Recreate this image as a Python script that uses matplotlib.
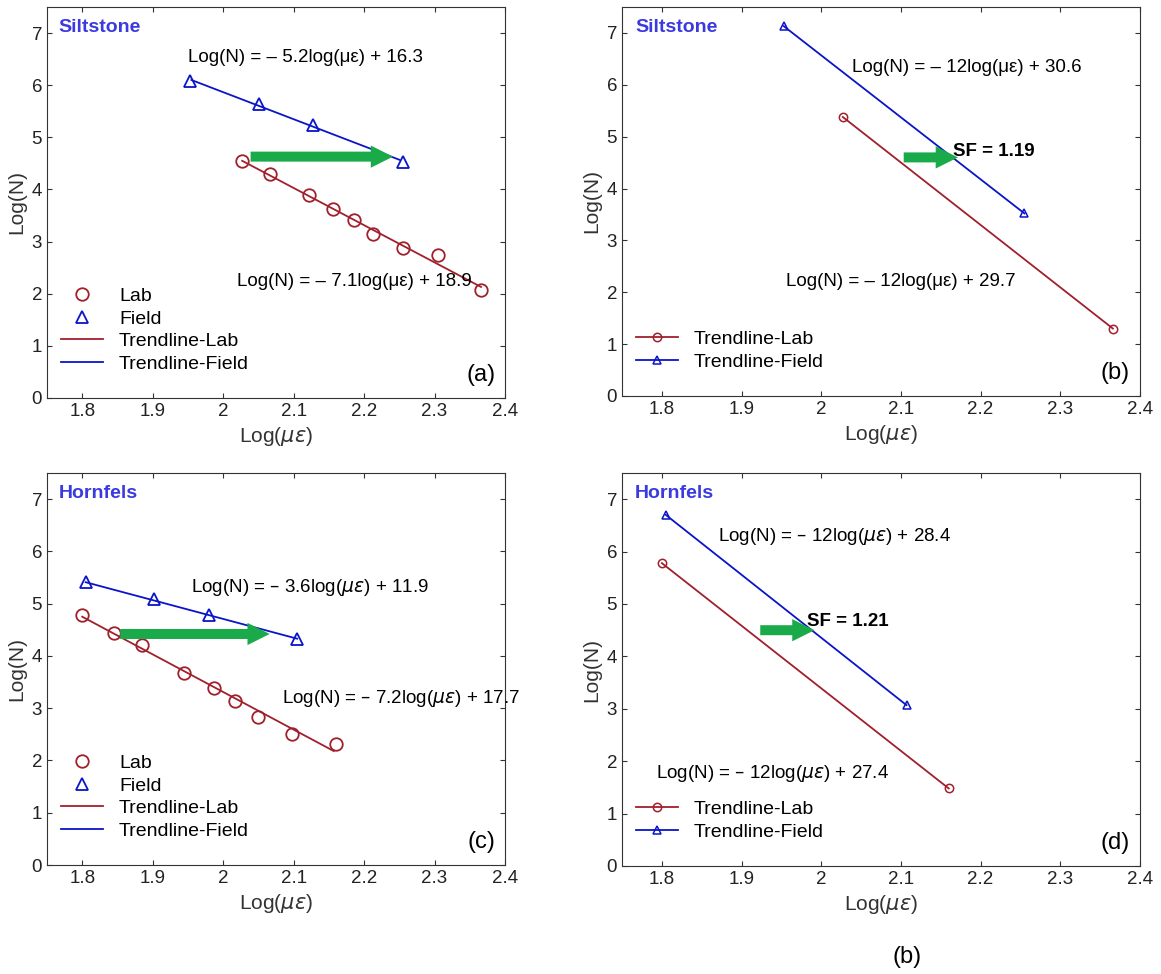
import matplotlib.pyplot as plt
plt.rcParams['font.family']=['Liberation Sans','DejaVu Sans']

lab_a_x=[2.027,2.066,2.122,2.156,2.185,2.212,2.255,2.305,2.366]
lab_a_y=[4.55,4.30,3.90,3.63,3.42,3.15,2.87,2.75,2.08]
fld_a_x=[1.953,2.051,2.128,2.255]
fld_a_y=[6.08,5.63,5.24,4.52]
trl_a=([2.027,2.366],[4.55,2.13]); trf_a=([1.955,2.25],[6.10,4.57])
lab_b=([2.027,2.366],[5.38,1.30]); fld_b=([1.953,2.255],[7.13,3.52])
lab_c_x=[1.80,1.845,1.885,1.945,1.987,2.017,2.05,2.098,2.16]
lab_c_y=[4.78,4.44,4.20,3.68,3.39,3.14,2.84,2.50,2.32]
fld_c_x=[1.805,1.902,1.98,2.105]
fld_c_y=[5.41,5.09,4.78,4.33]
trl_c=([1.80,2.157],[4.75,2.18]); trf_c=([1.805,2.105],[5.41,4.33])
lab_d=([1.80,2.16],[5.78,1.48]); fld_d=([1.805,2.107],[6.70,3.07])

RED='#a0202c'; BLUE='#0a14c8'; GREEN='#1aaa4a'; TB='#3a3ae0'
fig=plt.figure(figsize=(11.61,9.74),dpi=100)
W,H=1161,974
def ax_at(x0,y0,x1,y1):
    return fig.add_axes([x0/W,1-y1/H,(x1-x0)/W,(y1-y0)/H])
axs=[ax_at(47,7,505,398),ax_at(622,7,1140,396),ax_at(47,473,505,865),ax_at(622,473,1140,866)]
for ax in axs:
    ax.set_xlim(1.75,2.4); ax.set_ylim(0,7.5)
    ax.set_xticks([1.8,1.9,2,2.1,2.2,2.3,2.4]); ax.set_xticklabels(['1.8','1.9','2','2.1','2.2','2.3','2.4'])
    ax.set_yticks(range(8))
    ax.tick_params(direction='in',top=True,right=True,labelsize=13.5,colors='#333333',labelcolor='#222222')
    for s in ax.spines.values(): s.set_color('#333333'); s.set_linewidth(0.8)
    ax.set_xlabel(r'Log($\mu\epsilon$)',fontsize=15,color='#333333')
    ax.set_ylabel('Log(N)',fontsize=15,color='#333333')

def arrow(ax,x0,x1,y):
    ax.annotate('',xy=(x1,y),xytext=(x0,y),arrowprops=dict(arrowstyle='simple,head_width=1.0,head_length=1.0,tail_width=0.45',color=GREEN,lw=0,mutation_scale=16))

mk=dict(mfc='none',ms=9,mew=1.3,ls='none')
for ax,lx,ly,fx,fy,tl,tf,lab,e1,e2,e1p,e2p,title in [
    (axs[0],lab_a_x,lab_a_y,fld_a_x,fld_a_y,trl_a,trf_a,'(a)','Log(N) = – 5.2log(με) + 16.3','Log(N) = – 7.1log(με) + 18.9',(1.95,6.54),(2.02,2.24),'Siltstone'),
    (axs[2],lab_c_x,lab_c_y,fld_c_x,fld_c_y,trl_c,trf_c,'(c)',r'Log(N) = – 3.6log($\mathit{με}$) + 11.9',r'Log(N) = – 7.2log($\mathit{με}$) + 17.7',(1.954,5.3),(2.083,3.18),'Hornfels')]:
    ax.plot(lx,ly,'o',color=RED,label='Lab',**mk)
    ax.plot(fx,fy,'^',color=BLUE,label='Field',**mk)
    ax.plot(*tl,color=RED,lw=1.3,label='Trendline-Lab')
    ax.plot(*tf,color=BLUE,lw=1.3,label='Trendline-Field')
    ax.text(*e1p,e1,fontsize=13.5,va='center')
    ax.text(*e2p,e2,fontsize=13.5,va='center')
    ax.legend(loc='lower left',bbox_to_anchor=(0.0,0.03),frameon=False,fontsize=14,handlelength=2.2,borderaxespad=0.3,labelspacing=0.25)
    ax.text(0.98,0.03,lab,transform=ax.transAxes,ha='right',va='bottom',fontsize=17)
    ax.text(0.025,0.97,title,transform=ax.transAxes,ha='left',va='top',fontsize=14,fontweight='bold',color=TB)
arrow(axs[0],2.035,2.245,4.63)
arrow(axs[2],1.85,2.07,4.42)

for ax,lb,fb,lab,e1,e2,e1p,e2p,sf,sfp,ar,title in [
    (axs[1],lab_b,fld_b,'(b)','Log(N) = – 12log(με) + 30.6','Log(N) = – 12log(με) + 29.7',(2.039,6.34),(1.956,2.2),'SF = 1.19',(2.165,4.72),(2.10,2.175,4.6),'Siltstone'),
    (axs[3],lab_d,fld_d,'(d)',r'Log(N) = – 12log($\mathit{με}$) + 28.4',r'Log(N) = – 12log($\mathit{με}$) + 27.4',(1.87,6.28),(1.793,1.77),'SF = 1.21',(1.982,4.66),(1.92,1.995,4.5),'Hornfels')]:
    ax.plot(*lb,'-o',color=RED,mfc='none',ms=6,mew=1.1,lw=1.3,label='Trendline-Lab')
    ax.plot(*fb,'-^',color=BLUE,mfc='none',ms=6,mew=1.1,lw=1.3,label='Trendline-Field')
    ax.text(*e1p,e1,fontsize=13.5,va='center')
    ax.text(*e2p,e2,fontsize=13.5,va='center')
    ax.text(*sfp,sf,fontsize=13.5,fontweight='bold',va='center')
    arrow(ax,ar[0],ar[1],ar[2])
    ax.legend(loc='lower left',bbox_to_anchor=(0.0,0.03),frameon=False,fontsize=14,handlelength=2.2,borderaxespad=0.3,labelspacing=0.25)
    ax.text(0.98,0.03,lab,transform=ax.transAxes,ha='right',va='bottom',fontsize=17)
    ax.text(0.025,0.97,title,transform=ax.transAxes,ha='left',va='top',fontsize=14,fontweight='bold',color=TB)
fig.text(907/W,1-957/H,'(b)',fontsize=17,ha='center',va='center')
fig.savefig('out.png',dpi=100)
